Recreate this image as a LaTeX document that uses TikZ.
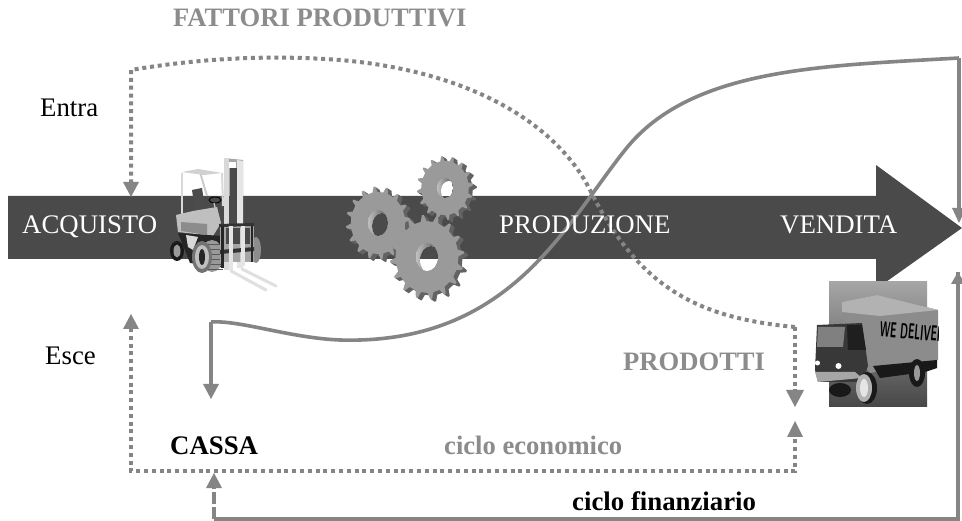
\documentclass[tikz,border=0pt]{standalone}
\usepackage{fontspec}
\setmainfont{Liberation Serif}
\usetikzlibrary{arrows.meta,calc}
\definecolor{band}{HTML}{4A4A4A}
\definecolor{flow}{HTML}{858585}
\definecolor{lab}{HTML}{8C8C8C}
\definecolor{gearf}{HTML}{9A9A9A}
\definecolor{geard}{HTML}{626262}
\tikzset{
  dotline/.style={draw=flow,line width=4pt,dash pattern=on 4pt off 3.8pt},
  solidline/.style={draw=flow,line width=3.6pt},
  txt/.style={inner sep=0pt,font=\fontsize{26.8}{27}\selectfont},
  boldgrey/.style={txt,font=\fontsize{26.6}{27}\selectfont\bfseries,text=lab},
  boldblack/.style={txt,font=\fontsize{26.8}{27}\selectfont\bfseries,text=black}
}
\newcommand{\gearshape}[2]{
  \path[#2] (0:#1)
    \foreach \k in {0,1,...,15}{
      -- ({\k*22.5+3}:#1) -- ({\k*22.5+7}:{#1*0.85}) -- ({\k*22.5+19}:{#1*0.85}) -- ({\k*22.5+22.5}:#1)
    } -- cycle;
}
% gear: #1 cx, #2 cy, #3 radius, #4 hole rx, #5 hole ry
\newcommand{\mygear}[5]{
  \begin{scope}[shift={(#1,#2)},yscale=1.14,rotate=8]
    \foreach \dd in {4,3,2,1}{
      \begin{scope}[shift={(\dd*0.9,\dd*0.7)}]
        \gearshape{#3}{fill=geard}
      \end{scope}}
    \gearshape{#3}{fill=gearf}
  \end{scope}
  \begin{scope}
    \clip (#1,#2) ellipse [x radius=#4,y radius=#5];
    \shade[left color=black!25,right color=black!65] (#1-#4,#2-#5) rectangle (#1+#4,#2+#5);
    \clip (#1+4,#2+3) ellipse [x radius=#4,y radius=#5];
    \fill[white] (#1-#4,#2-#5) rectangle (#1+#4,#2+#5);
    \fill[band] (300,196) rectangle (500,259);
  \end{scope}
}
\begin{document}
\begin{tikzpicture}[x=1pt,y=-1pt]
\useasboundingbox (0,0) rectangle (962,521);
\fill[white] (0,0) rectangle (962,521);
% named way points
\coordinate (topTip) at (131,197);
\coordinate (topCorner) at (131,70);
\coordinate (dotTurn) at (795,327);
\coordinate (dotDownTip) at (795,407);
\coordinate (dotUpTip) at (795,421);
\coordinate (dotBR) at (795,471);
\coordinate (dotBL) at (131,471);
\coordinate (dotUpLeft) at (131,314);
\coordinate (solStart) at (211,322);
\coordinate (solTip) at (211,399);
\coordinate (solEnd) at (959,58);
\coordinate (solEndTip) at (959,223);
\coordinate (finTip) at (214,473);
\coordinate (finBL) at (214,519);
\coordinate (finBR) at (958,519);
\coordinate (finTop) at (958,272);
% band arrow
\fill[band] (8,196) -- (876,196) -- (876,165) -- (962,228) -- (876,289) -- (876,259) -- (8,259) -- cycle;
% forklift
\begin{scope}
  % far wheel
  \fill[black!45] (256,250) ellipse [x radius=5,y radius=13];
  % cab frame
  \draw[black!15,line width=2.2pt] (182,215) -- (182,173);
  \draw[black!15,line width=2pt] (222,173) -- (223,206);
  \draw[black!20,line width=2pt] (200,172) -- (207,196);
  \fill[black!18] (182,172) -- (198,169) -- (222,173) -- (204,175) -- cycle;
  % seat
  \fill[black!70] (192,190) -- (202,188) -- (205,208) -- (195,211) -- cycle;
  \draw[black,line width=.9pt] (215,200) ellipse [x radius=6,y radius=3];
  \draw[black!20,line width=1.2pt] (214,203) -- (219,224);
  % body
  \fill[black!25] (176,215) -- (193,211) -- (217,207) -- (221,223) -- (213,236) -- (178,232) -- cycle;
  \fill[black!45] (181,222) -- (207,224) -- (207,235) -- (181,231) -- cycle;
  \fill[black!85] (178,233) -- (222,236) -- (226,268) -- (190,263) -- cycle;
  \fill[black!15] (186,235) -- (198,237) -- (193,250) -- (188,247) -- cycle;
  % rear wheel
  \fill[black!90] (177,251) ellipse [x radius=7,y radius=10];
  \fill[black!40] (177,251) ellipse [x radius=3.5,y radius=6.5];
  % front wheel
  \fill[black!40] (212,256) ellipse [x radius=11,y radius=16];
  \foreach \yy in {244,249,...,269}{\draw[black!65,line width=.7pt] (207,\yy) -- (223,\yy);}
  \fill[black!55] (202,257) ellipse [x radius=10,y radius=16];
  \fill[black!25] (202,257) ellipse [x radius=7,y radius=12];
  \fill[black!85] (202,257) ellipse [x radius=3,y radius=8];
  % mast
  \fill[black!35] (224,158) -- (243,160) -- (243,196) -- (224,196) -- cycle;
  \fill[black!15] (224,158) rectangle (229,270);
  \fill[black!10] (237,160) -- (243,161) -- (243,268) -- (237,268) -- cycle;
  \fill[white] (229,162) rectangle (236,168);
  \fill[band] (230,168) rectangle (237,262);
  % carriage
  \fill[black!35] (220,226) rectangle (254,262);
  \fill[band] (226,228) rectangle (250,244);
  \fill[black!20] (240,228) rectangle (245,262);
  \fill[black!80] (219,224) -- (254,223) -- (254,226) -- (219,227) -- cycle;
  \fill[black!80] (220,250) -- (254,247) -- (254,251) -- (220,254) -- cycle;
  \fill[black!10] (229,226) rectangle (233,270);
  \fill[black!10] (241,226) rectangle (245,266);
  \fill[black!85] (221,226) rectangle (224,268);
  \fill[black!85] (251,226) rectangle (253,262);
  % forks
  \draw[black!12,line width=3pt,line cap=round] (231,271) -- (266,290);
  \draw[black!12,line width=3pt,line cap=round] (242,269) -- (276,286);
\end{scope}
% gears
\mygear{378}{223}{32}{10}{13}
\mygear{445}{188}{28}{8}{10}
\mygear{427}{257}{37}{11}{14}
% truck
\begin{scope}
  \shade[top color=black!35,bottom color=black!72] (829,282) rectangle (927,407);
  \fill[black!45] (842,302) -- (877,295) -- (938,310) -- (938,360) -- (870,373) -- (864,366) -- (844,326) -- cycle;
  \fill[black!30] (842,302) -- (877,295) -- (938,310) -- (880,316) -- (842,312) -- cycle;
  \fill[black!90] (873,366) -- (937,360) -- (937,368) -- (925,372) -- (880,378) -- cycle;
  \begin{scope}
    \clip (870,300) rectangle (938,360);
    \node[inner sep=0pt,text=black,font=\fontsize{15}{15}\selectfont\sffamily\bfseries,rotate=-5,xscale=.66,yscale=1.45,anchor=west] (truckTxt) at (880,329) {WE DELIVER};
  \end{scope}
  \fill[black!78] (817,325) -- (862,323) -- (868,366) -- (862,382) -- (818,382) -- (815,370) -- cycle;
  \fill[black!50] (818,327) -- (845,327) -- (843,347) -- (817,347) -- cycle;
  \fill[black!88] (847,325) -- (862,325) -- (866,350) -- (848,350) -- cycle;
  \fill[black!35] (815,372) -- (855,372) -- (862,378) -- (818,382) -- cycle;
  \fill[white] (817.5,363) circle (2.5);
  \fill[white] (838.5,366) circle (3);
  \fill[black!90] (840,390) ellipse [x radius=11,y radius=7];
  \fill[black!90] (867,388) ellipse [x radius=10,y radius=16];
  \fill[black!30] (864,388) ellipse [x radius=8,y radius=14];
  \fill[black!10] (864,388) ellipse [x radius=4,y radius=9];
  \fill[black!90] (917,373) ellipse [x radius=8,y radius=14];
  \fill[black!40] (917,373) ellipse [x radius=3,y radius=8];
\end{scope}
% connectors
\draw[dotline] (dotTurn) .. controls (700,318) and (640,290) .. (590,190)
   .. controls (560,130) and (480,72) .. (340,60) .. controls (260,54) and (190,60) .. (topCorner) -- ($(topTip)+(0,-14)$);
\fill[flow] (topTip) -- ++(-8,-15) -- ++(16,0) -- cycle;
\draw[dotline] (dotTurn) -- ($(dotDownTip)+(0,-15)$);
\fill[flow] (dotDownTip) -- ++(-9,-17) -- ++(18,0) -- cycle;
\draw[dotline] ($(dotUpLeft)+(0,14)$) -- (dotBL) -- (dotBR) -- ($(dotUpTip)+(0,14)$);
\fill[flow] (dotUpLeft) -- ++(-8,15) -- ++(16,0) -- cycle;
\fill[flow] (dotUpTip) -- ++(-8,16) -- ++(16,0) -- cycle;
\draw[solidline] (solEnd) .. controls (820,66) and (690,68) .. (625,150)
   .. controls (565,225) and (510,345) .. (340,340) .. controls (290,338) and (240,320) .. (solStart);
\draw[solidline] (solStart) -- ($(solTip)+(0,-14)$);
\fill[flow] (solTip) -- ++(-8,-15) -- ++(16,0) -- cycle;
\draw[solidline] (solEnd) -- ($(solEndTip)+(0,-14)$);
\fill[flow] (solEndTip) -- ++(-7,-15) -- ++(14,0) -- cycle;
\draw[solidline] (finTop) -- (finBR) -- (finBL);
\draw[draw=flow,line width=3.6pt,dash pattern=on 12pt off 3pt] (finBL) -- ($(finTip)+(0,14)$);
\fill[flow] (finTip) -- ++(-8,15) -- ++(16,0) -- cycle;
\fill[flow] (finTop) -- ++(-7,12) -- ++(14,0) -- cycle;
% labels
\node[boldgrey,anchor=base west] (fp) at (173,27) {FATTORI PRODUTTIVI};
\node[txt,anchor=base west] (entra) at (40,117) {Entra};
\node[txt,anchor=base west] (esce) at (45,365) {Esce};
\node[txt,anchor=base west,text=white] (acq) at (22,234) {ACQUISTO};
\node[txt,anchor=base west,text=white] (prod) at (499,234) {PRODUZIONE};
\node[txt,anchor=base west,text=white] (vend) at (780,234) {VENDITA};
\node[boldgrey,anchor=base west] (prodotti) at (623,371) {PRODOTTI};
\node[boldblack,anchor=base west] (cassa) at (170,455) {CASSA};
\node[boldgrey,anchor=base west] (ce) at (444,455) {ciclo economico};
\node[boldblack,anchor=base west] (cf) at (572,510) {ciclo finanziario};
\end{tikzpicture}
\end{document}
